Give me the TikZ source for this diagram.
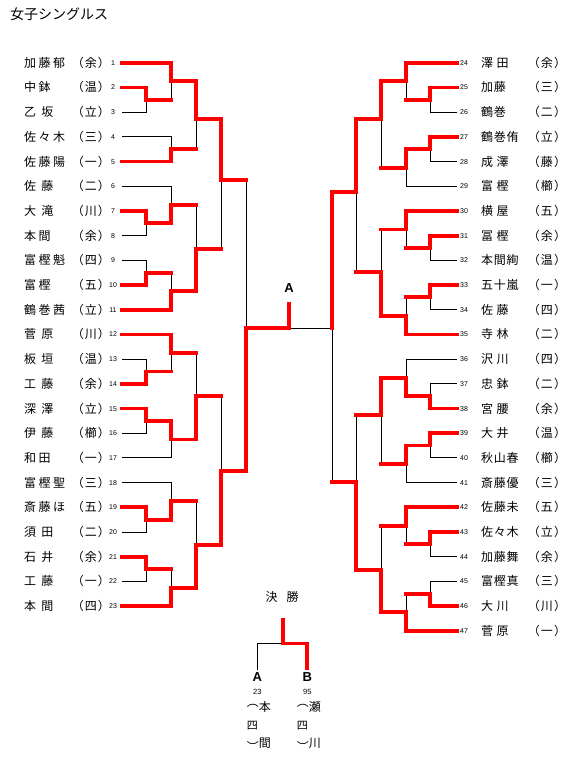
\documentclass[tikz,border=0pt]{standalone}
\usepackage{fontspec}
\usepackage{tikz}
\newfontfamily\jpfont{Noto Sans CJK JP}
\newfontfamily\jpname{Noto Sans CJK JP}[LetterSpace=20]
\newfontfamily\jpnamer{Noto Sans CJK JP}[LetterSpace=6]
\newfontfamily\jpaff{Noto Sans CJK JP}[RawFeature=+palt,LetterSpace=12]
\newfontfamily\latfont{Liberation Sans}

\tikzset{
  lost/.style={draw=black, line width=1pt},
  won/.style={draw=red, line width=3.8pt, line cap=rect},
  namel/.style={anchor=base west, inner sep=0pt, font=\jpname\fontsize{12}{12}\selectfont},
  namer/.style={anchor=base west, inner sep=0pt, font=\jpnamer\fontsize{12}{12}\selectfont},
  aff/.style={anchor=base, inner sep=0pt, font=\jpaff\fontsize{12}{12}\selectfont},
  seedno/.style={anchor=base, inner sep=0pt, font=\latfont\fontsize{7}{7}\selectfont},
  pool/.style={inner sep=2.5pt, font=\latfont\bfseries\fontsize{13}{13}\selectfont},
  jptext/.style={anchor=base west, inner sep=0pt, font=\jpfont\fontsize{12}{12}\selectfont},
}

\begin{document}
\begin{tikzpicture}[x=1pt,y=-1pt]
  \path[use as bounding box, fill=white] (0,0) rectangle (567,763);

  \node[jptext, font=\jpfont\fontsize{14}{14}\selectfont] (title) at (10,19.5) {女子シングルス};

  \foreach \i/\nm/\af in {1/加藤郁/余, 2/中鉢/温, 3/乙 坂/立, 4/佐々木/三, 5/佐藤陽/一,
      6/佐 藤/二, 7/大 滝/川, 8/本間/余, 9/富樫魁/四, 10/富樫/五, 11/鶴巻茜/立,
      12/菅 原/川, 13/板 垣/温, 14/工 藤/余, 15/深 澤/立, 16/伊 藤/櫛, 17/和田/一,
      18/富樫聖/三, 19/斎藤ほ/五, 20/須 田/二, 21/石 井/余, 22/工 藤/一, 23/本 間/四}{
    \pgfmathsetmacro\yy{62.7+(\i-1)*24.7}
    \node[namel] (nl\i) at (24,\yy+4.5) {\nm};
    \node[aff] (al\i) at (91,\yy+4.5) {（\af）};
    \node[seedno] (sl\i) at (113,\yy+2.5) {\i};
    \coordinate (L\i) at (122,\yy);
  }

  \foreach \i/\nm/\af in {24/澤 田/余, 25/加藤/三, 26/鶴巻/二, 27/鶴巻侑/立, 28/成 澤/藤,
      29/富 樫/櫛, 30/横 屋/五, 31/冨 樫/余, 32/本間絢/温, 33/五十嵐/一, 34/佐 藤/四,
      35/寺 林/二, 36/沢 川/四, 37/忠 鉢/二, 38/宮 腰/余, 39/大 井/温, 40/秋山春/櫛,
      41/斎藤優/三, 42/佐藤未/五, 43/佐々木/立, 44/加藤舞/余, 45/富樫真/三, 46/大 川/川,
      47/菅 原/一}{
    \pgfmathsetmacro\yy{62.7+(\i-24)*24.7}
    \coordinate (R\i) at (457,\yy);
    \node[seedno] (sr\i) at (464,\yy+2.5) {\i};
    \node[namer] (nr\i) at (481,\yy+4.5) {\nm};
    \node[aff] (ar\i) at (547,\yy+4.5) {（\af）};
  }

  \foreach \m/\x/\y in {a1/146/99.75, a2/146/223.25, a3/146/272.65, a4/146/371.45,
      a5/146/420.85, a6/146/519.65, a7/146/569.05,
      b1/171/81.2, b2/171/149.15, b3/171/204.7, b4/171/291.2, b5/171/352.9,
      b6/171/439.4, b7/171/501.1, b8/171/587.6,
      c1/196/119, c2/196/249, c3/196/396, c4/196/545,
      d1/221/180, d2/221/470.7, e1/246/328,
      f1/430/99.75, f2/430/149.15, f3/430/247.95, f4/430/297.35, f5/430/396.15,
      f6/430/445.55, f7/430/544.35, f8/430/593.75,
      g1/406/81.2, g2/406/167.7, g3/406/229.4, g4/406/315.9, g5/406/377.6,
      g6/406/464.1, g7/406/525.8, g8/406/612.3,
      h1/381/119, h2/381/271.7, h3/381/415, h4/381/570,
      i1/356/192, i2/356/482.3, j1/332/328, cA/289/304}
    \coordinate (\m) at (\x,\y);

  \node[pool] (pA) at (289,288.3) {A};

  \foreach \c/\p in {L3/a1, L4/b2, L6/b3, L8/a2, L9/a3, L13/a4, L16/a5, L17/b6, L18/b7,
      L20/a6, L22/a7, R26/f1, R28/f2, R29/g2, R32/f3, R34/f4, R36/g5, R37/f5, R40/f6,
      R41/g6, R44/f7, R45/f8, j1/cA}
    \draw[lost] (\c) -| (\p);

  \foreach \c/\p in {a1/b1, a3/b4, a4/b5, a7/b8, b2/c1, b3/c2, b5/c3, b7/c4, c2/d1,
      c3/d2, d1/e1, f1/g1, f3/g3, f4/g4, f7/g7, f8/g8, g2/h1, g3/h2, g6/h3, g7/h4,
      h2/i1, h3/i2, i2/j1}{
    \draw[lost] (\c) -| (\p);
    \draw[won] (\c) -- (\c -| \p);
  }

  \foreach \c/\p in {L1/b1, L2/a1, L5/b2, L7/a2, a2/b3, L10/a3, L11/b4, L12/b5, L14/a4,
      L15/a5, a5/b6, L19/a6, a6/b7, L21/a7, L23/b8, b1/c1, b4/c2, b6/c3, b8/c4, c1/d1,
      c4/d2, d2/e1, e1/cA,
      R24/g1, R25/f1, R27/f2, f2/g2, R30/g3, R31/f3, R33/f4, R35/g4, R38/f5, f5/g5,
      R39/f6, f6/g6, R42/g7, R43/f7, R46/f8, R47/g8, g1/h1, g4/h2, g5/h3, g8/h4,
      h1/i1, h4/i2, i1/j1}
    \draw[won] (\c) -| (\p);

  \node[jptext, anchor=base] (final) at (282,601.2) {決\hspace{9pt}勝};
  \coordinate (ftop) at (282.7,618);
  \coordinate (fjoin) at (282.7,643.5);
  \node[pool] (fa) at (257.3,677.5) {A};
  \node[pool] (fb) at (307.3,677.5) {B};
  \draw[lost] (fa.north) |- (fjoin);
  \draw[won, line cap=butt] (fb.north) |- (fjoin) -- (ftop);

  \node[seedno, font=\latfont\fontsize{7.5}{7.5}\selectfont] (fan) at (257.3,694.4) {23};
  \node[seedno, font=\latfont\fontsize{7.5}{7.5}\selectfont] (fbn) at (307.3,694.4) {95};
  \node[jptext] (fa1) at (246.7,711.2) {\raisebox{5pt}{︵}本};
  \node[jptext, font=\jpfont\fontsize{11}{11}\selectfont] (fa2) at (246.7,729.2) {四};
  \node[jptext] (fa3) at (246.7,747.8) {\raisebox{-4pt}{︶}間};
  \node[jptext] (fb1) at (296.7,711.2) {\raisebox{5pt}{︵}瀬};
  \node[jptext, font=\jpfont\fontsize{11}{11}\selectfont] (fb2) at (296.7,729.2) {四};
  \node[jptext] (fb3) at (296.7,747.8) {\raisebox{-4pt}{︶}川};
\end{tikzpicture}
\end{document}
